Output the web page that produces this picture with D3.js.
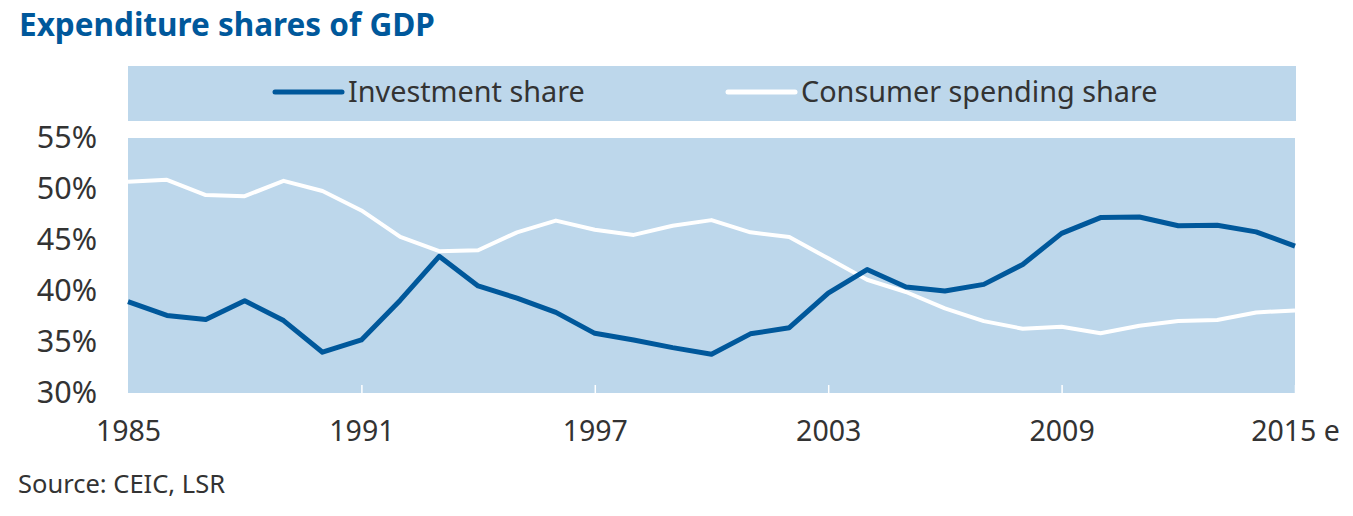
<!DOCTYPE html>
<html>
<head>
<meta charset="utf-8">
<script src="https://cdn.jsdelivr.net/npm/d3@7"></script>
<style>
  body { margin: 0; background: #fff; }
  svg text { font-family: "Noto Sans", sans-serif; }
</style>
</head>
<body>
<svg id="chart" width="1353" height="516"></svg>
<script>
const years = d3.range(1985, 2016);
const investment = [38.95, 37.6, 37.2, 39.05, 37.1, 34.0, 35.2, 39.1, 43.4, 40.5,
  39.3, 37.9, 35.85, 35.2, 34.45, 33.8, 35.8, 36.4, 39.8, 42.1,
  40.4, 40.0, 40.65, 42.6, 45.65, 47.2, 47.25, 46.4, 46.45, 45.8, 44.4];
const consumer = [50.7, 50.9, 49.4, 49.3, 50.8, 49.8, 47.9, 45.3, 43.9, 44.0,
  45.75, 46.9, 46.0, 45.5, 46.4, 46.95, 45.75, 45.3, 43.2, 41.1,
  39.9, 38.3, 37.05, 36.3, 36.5, 35.85, 36.6, 37.05, 37.15, 37.9, 38.1];
const xTicks = [1985, 1991, 1997, 2003, 2009, 2015];
const yTicks = [30, 35, 40, 45, 50, 55];
const seriesNames = ["Investment share", "Consumer spending share"];

const margin = { top: 138, right: 58, bottom: 123, left: 128 };
const width = 1353, height = 516;
const drawWidth = width - margin.left - margin.right;
const drawHeight = height - margin.top - margin.bottom;

const bandColor = "#bdd7eb";
const darkBlue = "#00589b";
const textColor = "#333333";

const svg = d3.select("#chart");

svg.append("text")
  .attr("x", 19).attr("y", 36)
  .attr("fill", darkBlue)
  .attr("font-weight", "bold")
  .attr("font-size", 31.5)
  .text("Expenditure shares of GDP");

// legend band
const legend = svg.append("g");
legend.append("rect")
  .attr("x", margin.left).attr("y", 66)
  .attr("width", drawWidth + 1).attr("height", 55)
  .attr("fill", bandColor);

const legendItems = [
  { name: seriesNames[0], color: darkBlue, x: 275 },
  { name: seriesNames[1], color: "#ffffff", x: 728 }
];
legendItems.forEach(d => {
  legend.append("line")
    .attr("x1", d.x).attr("x2", d.x + 67)
    .attr("y1", 92).attr("y2", 92)
    .attr("stroke", d.color).attr("stroke-width", 5)
    .attr("stroke-linecap", "round");
  legend.append("text")
    .attr("x", d.x + 73).attr("y", 102)
    .attr("fill", textColor).attr("font-size", 28.8)
    .text(d.name);
});

const g = svg.append("g").attr("transform", `translate(${margin.left},${margin.top})`);

g.append("rect")
  .attr("width", drawWidth).attr("height", drawHeight)
  .attr("fill", bandColor);

const x = d3.scaleLinear().domain([1985, 2015]).range([0, drawWidth]);
const y = d3.scaleLinear().domain([30, 55]).range([drawHeight, 0]);

const xAxis = g.append("g")
  .attr("transform", `translate(0,${drawHeight})`)
  .call(d3.axisBottom(x)
    .tickValues(xTicks)
    .tickSizeInner(-8).tickSizeOuter(0)
    .tickPadding(28)
    .tickFormat(d => d === 2015 ? "2015 e" : d));
xAxis.select(".domain").remove();
xAxis.selectAll(".tick line").attr("stroke", "#ffffff").attr("stroke-width", 1.5);
xAxis.selectAll(".tick").filter(d => d === 1985).select("line").remove();
xAxis.selectAll(".tick text")
  .attr("fill", textColor).attr("font-size", 28.5)
  .attr("font-family", "Noto Sans, sans-serif");

const yAxis = g.append("g")
  .call(d3.axisLeft(y)
    .tickValues(yTicks)
    .tickSize(0)
    .tickPadding(31)
    .tickFormat(d => d + "%"));
yAxis.select(".domain").remove();
yAxis.selectAll(".tick text")
  .attr("fill", textColor).attr("font-size", 30.5)
  .attr("font-family", "Noto Sans, sans-serif");

const line = d3.line()
  .x((d, i) => x(years[i]))
  .y(d => y(d));

g.append("path")
  .datum(consumer)
  .attr("fill", "none")
  .attr("stroke", "#ffffff")
  .attr("stroke-width", 4)
  .attr("stroke-linejoin", "round")
  .attr("d", line);

g.append("path")
  .datum(investment)
  .attr("fill", "none")
  .attr("stroke", darkBlue)
  .attr("stroke-width", 5)
  .attr("stroke-linejoin", "round")
  .attr("d", line);

svg.append("text")
  .attr("x", 18).attr("y", 493)
  .attr("fill", textColor).attr("font-size", 25.5)
  .text("Source: CEIC, LSR");
</script>
</body>
</html>
